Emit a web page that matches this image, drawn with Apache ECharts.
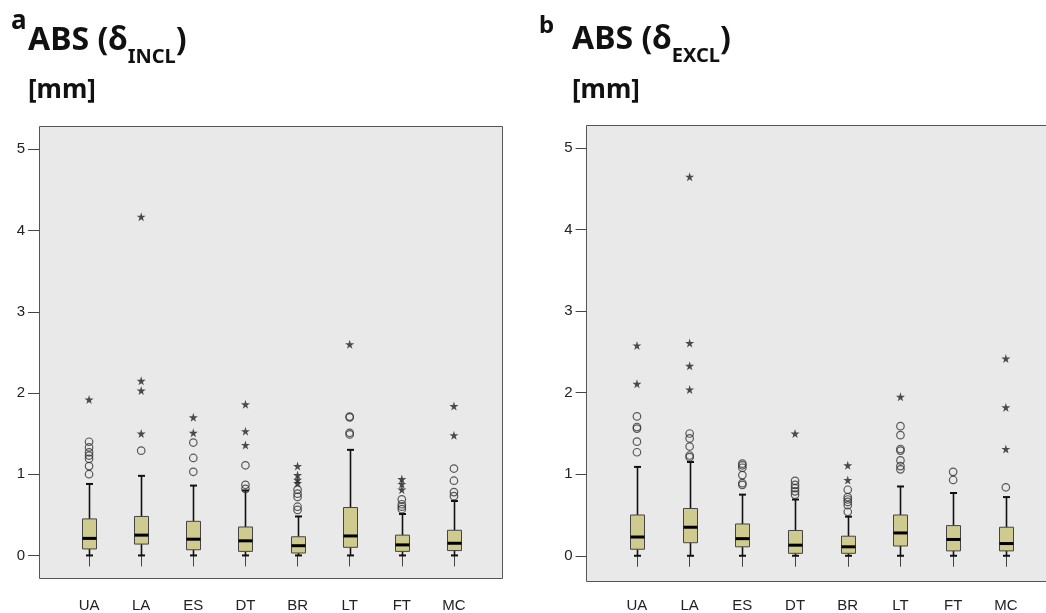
<!DOCTYPE html>
<html>
<head>
<meta charset="utf-8">
<script src="https://cdn.jsdelivr.net/npm/echarts@6/dist/echarts.min.js"></script>
<style>
html,body{margin:0;padding:0;background:#fff;}
#c{width:1046px;height:613px;}
</style>
</head>
<body>
<div id="c"></div>
<script>
// ---------- data ----------
const categories = ['UA','LA','ES','DT','BR','LT','FT','MC'];
const yTicks = [0,1,2,3,4,5];

// panel a: ABS (δINCL)
const inclLow  = [0.00,0.00,0.00,0.00,0.00,0.00,0.00,0.00];
const inclQ1   = [0.08,0.14,0.07,0.05,0.03,0.10,0.05,0.06];
const inclMed  = [0.21,0.25,0.20,0.18,0.12,0.24,0.13,0.15];
const inclQ3   = [0.45,0.48,0.42,0.35,0.23,0.59,0.25,0.31];
const inclHigh = [0.88,0.98,0.86,0.80,0.48,1.30,0.51,0.67];
const inclCircles = [
  [1.00,1.10,1.19,1.23,1.27,1.33,1.40],
  [1.29],
  [1.03,1.20,1.39],
  [0.82,0.87,1.11],
  [0.56,0.60,0.72,0.76,0.81],
  [1.49,1.51,1.70,1.71],
  [0.57,0.60,0.63,0.69],
  [0.73,0.78,0.92,1.07]
];
const inclStars = [
  [1.92],
  [1.50,2.03,2.15,4.17],
  [1.51,1.70],
  [1.36,1.53,1.86],
  [0.89,0.93,0.99,1.10],
  [2.60],
  [0.81,0.88,0.94],
  [1.48,1.84]
];

// panel b: ABS (δEXCL)
const exclLow  = [0.00,0.00,0.00,0.00,0.00,0.00,0.00,0.00];
const exclQ1   = [0.08,0.16,0.11,0.03,0.03,0.12,0.06,0.06];
const exclMed  = [0.23,0.35,0.21,0.13,0.11,0.28,0.20,0.15];
const exclQ3   = [0.50,0.58,0.39,0.31,0.24,0.50,0.37,0.35];
const exclHigh = [1.09,1.15,0.75,0.69,0.48,0.85,0.77,0.72];
const exclCircles = [
  [1.27,1.40,1.56,1.58,1.71],
  [1.21,1.23,1.34,1.44,1.50],
  [0.87,0.89,0.99,1.08,1.11,1.13],
  [0.75,0.79,0.83,0.87,0.92],
  [0.54,0.62,0.66,0.69,0.72,0.81],
  [1.06,1.10,1.17,1.29,1.31,1.48,1.59],
  [0.93,1.03],
  [0.84]
];
const exclStars = [
  [2.11,2.58],
  [2.04,2.33,2.61,4.65],
  [],
  [1.50],
  [0.93,1.11],
  [1.95],
  [],
  [1.31,1.82,2.42]
];

// ---------- helpers ----------
const STAR = 'path://M50,0 L61,35 L98,35 L68,57 L79,91 L50,70 L21,91 L32,57 L2,35 L39,35 Z';
const BOX_FILL = '#cfca8e';

function boxData(lo,q1,md,q3,hi){
  return categories.map((c,i)=>[i,lo[i],q1[i],md[i],q3[i],hi[i]]);
}
function pointData(groups){
  const out=[];
  groups.forEach((g,i)=>g.forEach(v=>out.push([i,v])));
  return out;
}
function renderBox(params, api){
  const x = api.value(0);
  const lo = api.coord([x, api.value(1)]);
  const q1 = api.coord([x, api.value(2)]);
  const md = api.coord([x, api.value(3)]);
  const q3 = api.coord([x, api.value(4)]);
  const hi = api.coord([x, api.value(5)]);
  const cx = Math.round(lo[0]) + 0.5;
  const bw = 14, cw = 7;
  const ls = {stroke:'#111', lineWidth:1.6};
  return {type:'group', children:[
    {type:'line', shape:{x1:cx,y1:lo[1],x2:cx,y2:q1[1]}, style:ls},
    {type:'line', shape:{x1:cx,y1:q3[1],x2:cx,y2:hi[1]}, style:ls},
    {type:'line', shape:{x1:cx-cw/2,y1:lo[1],x2:cx+cw/2,y2:lo[1]}, style:{stroke:'#111',lineWidth:2}},
    {type:'line', shape:{x1:cx-cw/2,y1:hi[1],x2:cx+cw/2,y2:hi[1]}, style:{stroke:'#111',lineWidth:2}},
    {type:'rect', shape:{x:cx-bw/2, y:q3[1], width:bw, height:q1[1]-q3[1]}, style:{fill:BOX_FILL, stroke:'#444', lineWidth:1}},
    {type:'line', shape:{x1:cx-bw/2,y1:md[1],x2:cx+bw/2,y2:md[1]}, style:{stroke:'#000',lineWidth:3}}
  ]};
}

const axisFont = {fontFamily:'Liberation Sans, Arial, sans-serif', fontSize:15, color:'#222'};

function xAx(gi){
  return {
    type:'category', gridIndex:gi, data:categories, boundaryGap:true,
    axisLine:{show:false},
    axisTick:{show:true, alignWithLabel:true, length:11, lineStyle:{color:'#444', width:1}},
    axisLabel:Object.assign({margin:19}, axisFont),
    splitLine:{show:false}
  };
}
function yAx(gi,min,max){
  return {
    type:'value', gridIndex:gi, min:min, max:max, offset:24,
    axisLine:{show:false},
    axisTick:{show:true, length:11, customValues:yTicks, lineStyle:{color:'#444', width:1}},
    axisLabel:Object.assign({margin:14, customValues:yTicks}, axisFont),
    splitLine:{show:false}
  };
}

const TF = 'Noto Sans, Open Sans, sans-serif';
const titleMain = {fontFamily:TF, fontWeight:'bold', fontSize:32, color:'#111', lineHeight:53, verticalAlign:'middle'};
const titleSub  = {fontFamily:TF, fontWeight:'bold', fontSize:20, color:'#111', verticalAlign:'bottom'};
const unitStyle = {fontFamily:TF, fontWeight:'bold', fontSize:26, color:'#111', lineHeight:26};

const chart = echarts.init(document.getElementById('c'), null, {renderer:'canvas'});
chart.setOption({
  animation:false,
  backgroundColor:'#ffffff',
  title:[
    {text:'a', left:11, top:9, padding:0, textStyle:{fontFamily:TF, fontWeight:'bold', fontSize:26, color:'#111', lineHeight:26}},
    {text:'{m|ABS (δ}{s|INCL}{m|)}', left:28, top:14, padding:0, textStyle:{rich:{m:titleMain, s:titleSub}}},
    {text:'[mm]', left:28, top:78, padding:0, textStyle:unitStyle},
    {text:'b', left:539, top:14, padding:0, textStyle:{fontFamily:TF, fontWeight:'bold', fontSize:24, color:'#111', lineHeight:24}},
    {text:'{m|ABS (δ}{s|EXCL}{m|)}', left:572, top:13, padding:0, textStyle:{rich:{m:titleMain, s:titleSub}}},
    {text:'[mm]', left:572, top:78, padding:0, textStyle:unitStyle}
  ],
  graphic:[
    {type:'rect', z:-10, silent:true, shape:{x:39.5, y:126.5, width:463, height:452}, style:{fill:'#e9e9e9', stroke:'#555', lineWidth:1}},
    {type:'rect', z:-10, silent:true, shape:{x:586.5, y:125.5, width:470, height:456}, style:{fill:'#e9e9e9', stroke:'#555', lineWidth:1}}
  ],
  grid:[
    {left:63, top:126, width:417, height:453},
    {left:610.6, top:125.7, width:421.6, height:456}
  ],
  xAxis:[xAx(0), xAx(1)],
  yAxis:[yAx(0,-0.29,5.287), yAx(1,-0.285,5.276)],
  series:[
    {type:'custom', xAxisIndex:0, yAxisIndex:0, renderItem:renderBox, encode:{x:0,y:[1,2,3,4,5]},
     data:boxData(inclLow,inclQ1,inclMed,inclQ3,inclHigh), z:3},
    {type:'scatter', xAxisIndex:0, yAxisIndex:0, symbol:'circle', symbolSize:7.5,
     itemStyle:{color:'rgba(0,0,0,0)', borderColor:'#333', borderWidth:1.2}, data:pointData(inclCircles), z:4},
    {type:'scatter', xAxisIndex:0, yAxisIndex:0, symbol:STAR, symbolSize:9,
     itemStyle:{color:'#222'}, data:pointData(inclStars), z:4},
    {type:'custom', xAxisIndex:1, yAxisIndex:1, renderItem:renderBox, encode:{x:0,y:[1,2,3,4,5]},
     data:boxData(exclLow,exclQ1,exclMed,exclQ3,exclHigh), z:3},
    {type:'scatter', xAxisIndex:1, yAxisIndex:1, symbol:'circle', symbolSize:7.5,
     itemStyle:{color:'rgba(0,0,0,0)', borderColor:'#333', borderWidth:1.2}, data:pointData(exclCircles), z:4},
    {type:'scatter', xAxisIndex:1, yAxisIndex:1, symbol:STAR, symbolSize:9,
     itemStyle:{color:'#222'}, data:pointData(exclStars), z:4}
  ]
});
</script>
</body>
</html>
